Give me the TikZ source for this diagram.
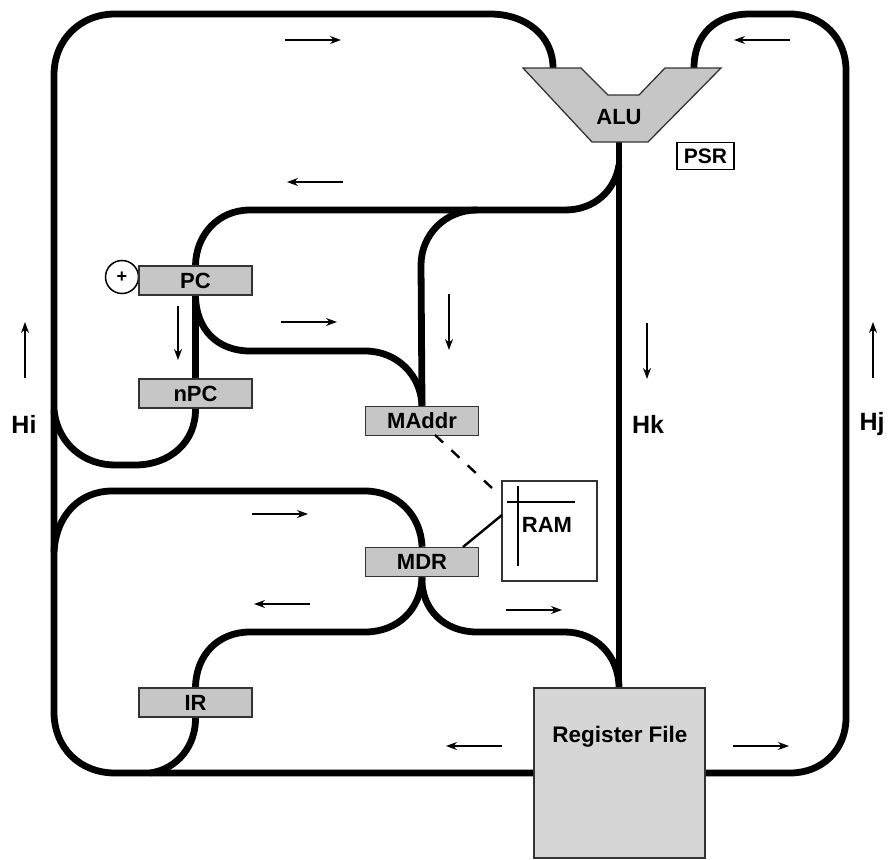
\documentclass[tikz,border=0pt]{standalone}
\usepackage{fontspec}
\setmainfont{Liberation Sans}
\usetikzlibrary{arrows.meta}
\definecolor{boxgray}{HTML}{C6C6C6}
\definecolor{rfgray}{HTML}{D6D6D6}
\tikzset{
  bus/.style={line width=6.8pt,black,line cap=butt},
  regbox/.style={draw=black!80,line width=1.5pt,fill=boxgray,minimum width=113pt,minimum height=29pt,inner sep=0pt,font=\fontsize{22}{24}\selectfont\bfseries},
  rfbox/.style={draw=black!80,line width=1.5pt,fill=rfgray,minimum width=171pt,minimum height=170pt,inner sep=0pt},
  rftext/.style={font=\fontsize{22.5}{24}\selectfont\bfseries,inner sep=0pt},
  flow/.style={line width=1.1pt,-{Stealth[length=11pt,width=8pt]}},
  thin link/.style={line width=2.4pt},
  lbl/.style={font=\fontsize{25}{27}\selectfont\bfseries,inner sep=0pt}
}
\begin{document}
\begin{tikzpicture}[x=1pt,y=-1pt]
\useasboundingbox (0,0) rectangle (888,859);
% placed nodes
\node[regbox] (PC) at (195.5,280.5) {PC};
\node[regbox] (nPC) at (195.5,393.5) {nPC};
\node[regbox] (MAddr) at (422,421) {MAddr};
\node[regbox] (MDR) at (422,562) {MDR};
\node[regbox] (IR) at (195.5,702.5) {IR};
\node[rfbox] (RF) at (619.5,773) {};
\node[rftext] (RFt) at (620,737) {Register File};
\node[draw=black!80,line width=1.5pt,fill=white,minimum width=95pt,minimum height=100pt,inner sep=0pt] (RAM) at (549.5,531) {};
\node[font=\fontsize{22}{24}\selectfont\bfseries,inner sep=0pt] (RAMt) at (547,525) {RAM};
\node[draw=black,line width=1.5pt,fill=white,minimum width=57pt,minimum height=27pt,inner sep=0pt,font=\fontsize{21}{23}\selectfont\bfseries] (PSR) at (705.5,156) {PSR};
\node[draw=black,circle,line width=1.5pt,fill=white,minimum size=33pt,inner sep=0pt,font=\fontsize{18}{20}\selectfont\bfseries] (plus) at (122,277) {+};
% bus points
\coordinate (aluL) at (553,68);
\coordinate (aluR) at (694,68);
\coordinate (aluB) at (619,142);
\coordinate (hkA) at (619,165);
\coordinate (hkB) at (619,688);
\coordinate (midBus) at (477,210);
\coordinate (rfL) at (534,773);
\coordinate (rfR) at (705,773);
\coordinate (lowJ) at (54,552);
\coordinate (nJ) at (54,410);
\coordinate (irJ) at (150,773);
\begin{scope}[bus]
% outer left loop
\draw (aluL) .. controls (553,35) and (525,14) .. (490,14) -- (115,14)
  .. controls (80,14) and (54,40) .. (54,75) -- (54,712)
  .. controls (54,748) and (80,773) .. (115,773) -- (rfL);
% outer right loop
\draw (aluR) .. controls (694,35) and (715,14) .. (750,14) -- (790,14)
  .. controls (822,14) and (846,38) .. (846,70) -- (846,718)
  .. controls (846,750) and (822,773) .. (790,773) -- (rfR);
% central bus
\draw (aluB) -- (hkB);
\draw (hkA) .. controls (615,190) and (595,210) .. (565,210) -- (250,210)
  .. controls (218,210) and (196,235) .. (PC.north);
\draw (midBus) .. controls (445,210) and (421,235) .. (421,265) -- (MAddr.north);
\draw (PC.south) -- (nPC.north);
\draw (PC.south) .. controls (196,330) and (218,351) .. (250,351) -- (365,351)
  .. controls (397,351) and (421,375) .. (MAddr.north);
\draw (nPC.south) .. controls (196,442) and (170,465) .. (135,465) -- (115,465)
  .. controls (85,465) and (58,445) .. (nJ);
% lower loops
\draw (lowJ) .. controls (56,515) and (80,491) .. (112,491) -- (365,491)
  .. controls (397,491) and (421,515) .. (MDR.north);
\draw (MDR.south) .. controls (421,610) and (397,632) .. (365,632) -- (250,632)
  .. controls (218,632) and (196,655) .. (IR.north);
\draw (MDR.south) .. controls (421,610) and (445,632) .. (477,632) -- (565,632)
  .. controls (595,632) and (619,655) .. (hkB);
\draw (IR.south) .. controls (196,745) and (178,769) .. (irJ);
\end{scope}
% boxes redrawn over the buses
\node[regbox] at (PC) {PC};
\node[regbox] at (nPC) {nPC};
\node[regbox] at (MAddr) {MAddr};
\node[regbox] at (MDR) {MDR};
\node[regbox] at (IR) {IR};
\node[rfbox] at (RF) {};
\node[rftext] at (RFt) {Register File};
% ALU
\coordinate (a1) at (523,68);
\coordinate (a2) at (581,68);
\coordinate (a3) at (608,95);
\coordinate (a4) at (639,95);
\coordinate (a5) at (665,68);
\coordinate (a6) at (721,68);
\coordinate (a7) at (648,142);
\coordinate (a8) at (592,142);
\draw[draw=black!80,line width=1.3pt,fill=boxgray] (a1) -- (a2) -- (a3) -- (a4) -- (a5) -- (a6) -- (a7) -- (a8) -- cycle;
\node[font=\fontsize{22}{24}\selectfont\bfseries,inner sep=0pt] (ALU) at (619,117) {ALU};
% RAM details
\coordinate (rv1) at (518,486);
\coordinate (rv2) at (518,566);
\coordinate (rh1) at (507,502);
\coordinate (rh2) at (575,502);
\draw[line width=1.5pt] (rv1) -- (rv2);
\draw[line width=1.5pt] (rh1) -- (rh2);
\coordinate (mdrOut) at (463,547);
\coordinate (ramIn) at (502,515);
\draw[thin link] (mdrOut) -- (ramIn);
\coordinate (maOut) at (435,435);
\coordinate (ramAddr) at (492,488);
\draw[thin link,dash pattern=on 11pt off 11.3pt] (maOut) -- (ramAddr);
% direction arrows
\foreach \n/\xa/\ya/\xb/\yb in {
 A/285/40/341/40, B/343/182/287/182, C/790/40/734/40, D/25/378/25/322,
 E/873/378/873/322, F/647/323/647/379, G/449/294/449/350, H/178/306/178/360,
 I/281/322/337/322, J/252/514/308/514, K/310/604/254/604, L/506/610/562/610,
 M/502/746/446/746, N/733/746/789/746}{
  \coordinate (\n s) at (\xa,\ya);
  \coordinate (\n e) at (\xb,\yb);
  \draw[flow] (\n s) -- (\n e);
}
% labels
\node[lbl] (Hi) at (24,424) {Hi};
\node[lbl] (Hk) at (648,424) {Hk};
\node[lbl] (Hj) at (872,424) {Hj};
\end{tikzpicture}
\end{document}
